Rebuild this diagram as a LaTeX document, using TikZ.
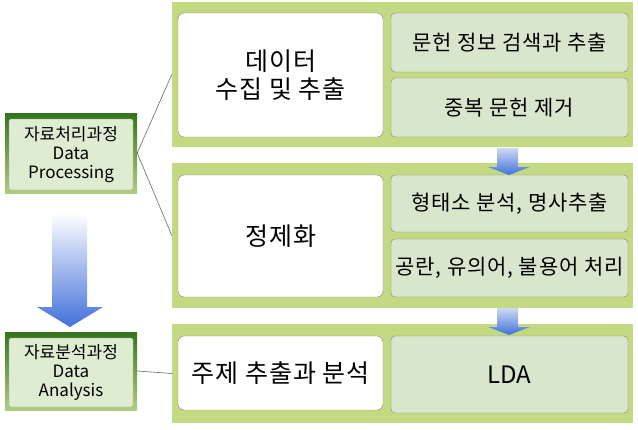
\documentclass[tikz,border=0pt]{standalone}
\usepackage{fontspec}
\setmainfont{Noto Sans CJK KR}
\newfontfamily\spacedfont[LetterSpace=4]{Noto Sans CJK KR}
\usepackage{tikz}
\usepackage{xcolor}
\definecolor{panelgreen}{RGB}{196,218,130}
\definecolor{subgreen}{RGB}{216,230,206}
\definecolor{innergreen}{RGB}{222,236,210}
\definecolor{darkgreen}{RGB}{52,116,28}
\definecolor{lightgreen}{RGB}{176,204,128}
\definecolor{boxgray}{RGB}{125,130,120}
\definecolor{linegray}{RGB}{105,105,105}
\definecolor{arrowblue}{RGB}{66,112,218}
\definecolor{paleblue}{RGB}{205,218,246}
\begin{document}
\begin{tikzpicture}[x=1pt,y=-1pt,line cap=round,
  panel/.style={fill=panelgreen,inner sep=0pt,minimum width=461pt},
  mainbox/.style={draw=boxgray,fill=white,rounded corners=6pt,inner sep=0pt,minimum width=205pt,align=center,font=\spacedfont\fontsize{25}{28}\selectfont},
  subbox/.style={draw=boxgray,fill=subgreen,rounded corners=4pt,inner sep=0pt,minimum width=237pt,font=\spacedfont\fontsize{21}{24}\selectfont},
  stageframe/.style={top color=darkgreen,bottom color=lightgreen,inner sep=0pt,minimum width=132pt},
  stagebox/.style={draw=boxgray!70,fill=innergreen,rounded corners=1.5pt,inner sep=0pt,minimum width=124pt,align=center,font=\fontsize{17}{19}\selectfont},
  link/.style={draw=linegray,line width=0.6pt}]
\useasboundingbox (0,0) rectangle (638,429);
\node[panel,minimum height=145pt] (collect) at (402.5,74.5) {};
\node[panel,minimum height=145pt] (refine) at (402.5,235.5) {};
\node[panel,minimum height=99pt] (topic) at (402.5,373.5) {};
\node[mainbox,minimum height=124pt] (collecttitle) at (280.5,75) {데이터\\수집 및 추출};
\node[subbox,minimum height=59pt] (search) at (509.5,42.5) {문헌 정보 검색과 추출};
\node[subbox,minimum height=59pt] (dedup) at (509.5,107.5) {중복 문헌 제거};
\node[mainbox,minimum height=122pt] (refinetitle) at (280.5,236) {정제화};
\node[subbox,minimum height=57pt] (morph) at (509.5,203.5) {형태소 분석, 명사추출};
\node[subbox,minimum height=58pt] (stop) at (509.5,268) {공란, 유의어, 불용어 처리};
\node[mainbox,minimum height=74pt] (topictitle) at (280.5,373) {주제 추출과 분석};
\node[subbox,minimum height=77pt,font=\fontsize{24}{28}\selectfont] (lda) at (509.5,374.5) {LDA};
\node[stageframe,minimum height=80pt] (dpframe) at (71,153) {};
\node[stagebox,minimum height=71pt] (dp) at (71,154.5) {자료처리과정\\Data\\Processing};
\node[stageframe,minimum height=78pt] (daframe) at (71,371) {};
\node[stagebox,minimum height=69pt] (da) at (71,372.5) {자료분석과정\\Data\\Analysis};
\draw[link] (dpframe.east) -- (collect.west);
\draw[link] (dpframe.east) -- (refine.west);
\draw[link] (daframe.east) -- (topic.west);
\shade[top color=white,bottom color=arrowblue] (52,213) -- (87,213) -- (87,307) -- (103,307) -- (70,327) -- (37,307) -- (52,307) -- cycle;
\shade[top color=paleblue,bottom color=arrowblue] (497,148) -- (518,148) -- (518,167) -- (530,167) -- (509,175) -- (488,167) -- (497,167) -- cycle;
\shade[top color=paleblue,bottom color=arrowblue] (497,308) -- (518,308) -- (518,327) -- (530,327) -- (509,335) -- (488,327) -- (497,327) -- cycle;
\end{tikzpicture}
\end{document}
